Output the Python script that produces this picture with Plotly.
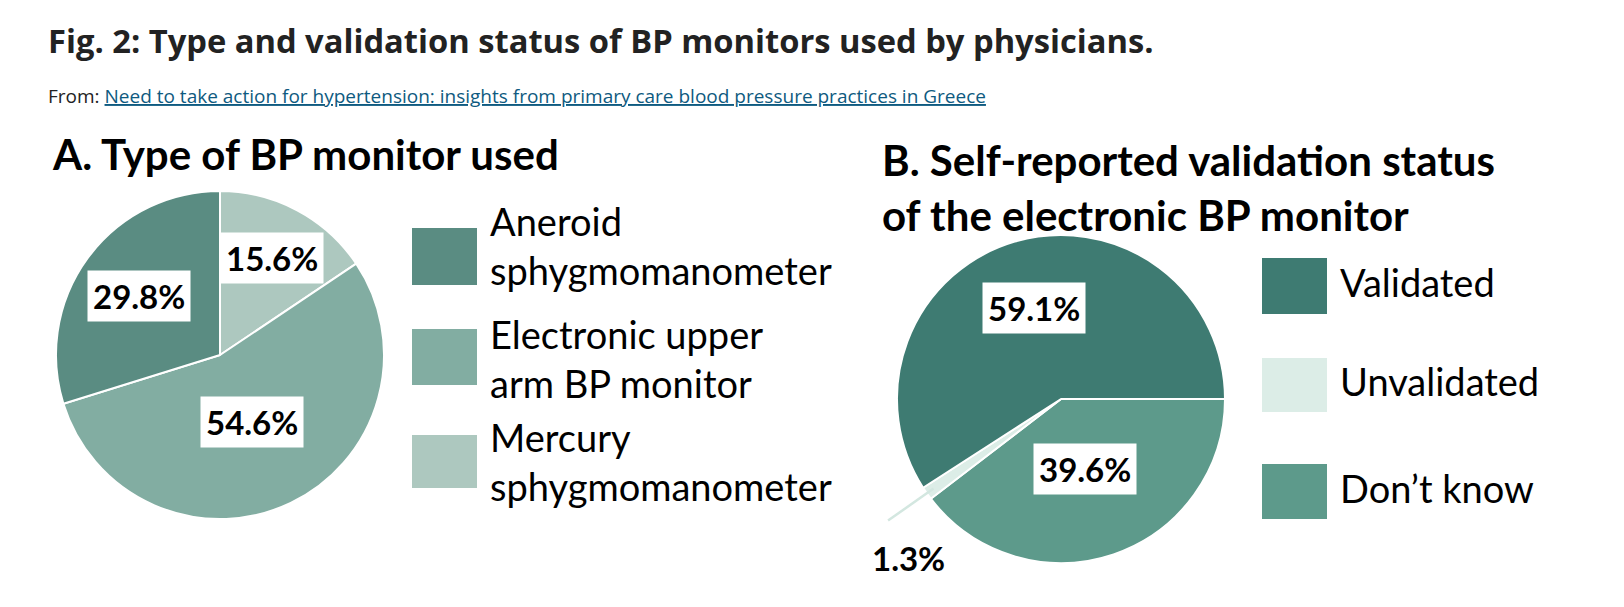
import math
import plotly.graph_objects as go

W, H = 1624, 607

# ---------------- data ----------------
type_labels = ["Aneroid sphygmomanometer", "Electronic upper arm BP monitor", "Mercury sphygmomanometer"]
type_legend_text = ["Aneroid<br>sphygmomanometer", "Electronic upper<br>arm BP monitor", "Mercury<br>sphygmomanometer"]
type_values = [29.8, 54.6, 15.6]

valid_labels = ["Validated", "Unvalidated", "Don’t know"]
valid_values = [59.1, 1.3, 39.6]

fig_title = "Fig. 2: Type and validation status of BP monitors used by physicians."
source_prefix = "From: "
source_link = "Need to take action for hypertension: insights from primary care blood pressure practices in Greece"
title_a = "A. Type of BP monitor used"
title_b = "B. Self-reported validation status<br>of the electronic BP monitor"

# ---------------- styles ----------------
type_colors = ["#5a8c82", "#82ada2", "#adc8bf"]
valid_colors = ["#3e7b72", "#dcede7", "#5d9a8b"]
FONT = "Lato"
HEAD_FONT = "Open Sans"

PIE_A = dict(cx=220, cy=355, r=164, rotation=0)
PIE_B = dict(cx=1061, cy=399, r=164, rotation=90)
label_r_a = [0.61, 0.45, 0.67]      # radial position of value boxes (legend order)
label_r_b = [0.58, None, 0.45]


def px(x):
    return x / W


def py(y):
    return 1 - y / H


def domain(p):
    return dict(x=[px(p["cx"] - p["r"]), px(p["cx"] + p["r"])],
                y=[py(p["cy"] + p["r"]), py(p["cy"] - p["r"])])


def mid_angles(values, rotation):
    """mid angle (deg, clockwise from 12 o'clock) of each slice, in legend order,
    for a pie drawn clockwise with the reversed order."""
    total = sum(values)
    rev = list(reversed(values))
    cum = 0.0
    mids_rev = []
    for v in rev:
        mids_rev.append(rotation + 360.0 * (cum + v / 2) / total)
        cum += v
    return list(reversed(mids_rev))


def polar(p, ang, frac):
    a = math.radians(ang)
    return p["cx"] + frac * p["r"] * math.sin(a), p["cy"] - frac * p["r"] * math.cos(a)


fig = go.Figure()

fig.add_trace(go.Pie(
    labels=type_labels[::-1], values=type_values[::-1],
    marker=dict(colors=type_colors[::-1], line=dict(color="white", width=2)),
    sort=False, direction="clockwise", rotation=PIE_A["rotation"],
    textinfo="none", hoverinfo="label+percent", showlegend=False,
    domain=domain(PIE_A),
))
fig.add_trace(go.Pie(
    labels=valid_labels[::-1], values=valid_values[::-1],
    marker=dict(colors=valid_colors[::-1], line=dict(color="white", width=2)),
    sort=False, direction="clockwise", rotation=PIE_B["rotation"],
    textinfo="none", hoverinfo="label+percent", showlegend=False,
    domain=domain(PIE_B),
))

annotations = []
shapes = []

# header
annotations.append(dict(x=px(46), y=py(41), xref="paper", yref="paper", xanchor="left", yanchor="middle",
                         text=f"<b>{fig_title}</b>", showarrow=False,
                         font=dict(family=HEAD_FONT, size=32.7, color="#222222")))
annotations.append(dict(x=px(46), y=py(96), xref="paper", yref="paper", xanchor="left", yanchor="middle",
                         text=f"{source_prefix}<a href='#' style='color:#0e5a80'><u>{source_link}</u></a>",
                         showarrow=False, font=dict(family=HEAD_FONT, size=19, color="#222222")))

# panel titles
annotations.append(dict(x=px(50), y=py(154), xref="paper", yref="paper", xanchor="left", yanchor="middle",
                         text=f"<b>{title_a}</b>", showarrow=False,
                         font=dict(family=FONT, size=42, color="black")))
annotations.append(dict(x=px(880), y=py(187), xref="paper", yref="paper", xanchor="left", yanchor="middle",
                         text=f"<b>{title_b}</b>", showarrow=False, align="left",
                         font=dict(family=FONT, size=42, color="black")))


def value_box(x, y, txt):
    annotations.append(dict(x=px(x), y=py(y), xref="paper", yref="paper", xanchor="center", yanchor="middle",
                             text=f"<b>{txt}</b>", showarrow=False, bgcolor="white", borderpad=5,
                             font=dict(family=FONT, size=33, color="black")))


# value labels, pie A
for v, ang, fr in zip(type_values, mid_angles(type_values, PIE_A["rotation"]), label_r_a):
    x, y = polar(PIE_A, ang, fr)
    value_box(x, y, f"{v:.1f}%")

# value labels, pie B
for v, ang, fr in zip(valid_values, mid_angles(valid_values, PIE_B["rotation"]), label_r_b):
    if fr is not None:
        x, y = polar(PIE_B, ang, fr)
        value_box(x, y, f"{v:.1f}%")
    else:
        x0, y0 = polar(PIE_B, ang, 0.95)
        x1, y1 = polar(PIE_B, ang, 1.3)
        annotations.append(dict(x=px(x0), y=py(y0), xref="paper", yref="paper",
                                 ax=x1 - x0, ay=y1 - y0, axref="pixel", ayref="pixel",
                                 text="", showarrow=True, arrowhead=0, arrowwidth=2.5,
                                 arrowcolor="#d3e7e0"))
        annotations.append(dict(x=px(x1 + 22), y=py(y1 + 36), xref="paper", yref="paper",
                                 xanchor="center", yanchor="middle", text=f"<b>{v:.1f}%</b>",
                                 showarrow=False, font=dict(family=FONT, size=33, color="black")))

# manual legends
leg_a_rows = [(228, 285), (329, 385), (435, 488)]
leg_a_text_y = [245, 358, 461]
for (y0, y1), ty, col, txt in zip(leg_a_rows, leg_a_text_y, type_colors, type_legend_text):
    shapes.append(dict(type="rect", xref="paper", yref="paper", x0=px(412), x1=px(477),
                       y0=py(y1), y1=py(y0), fillcolor=col, line=dict(width=0)))
    annotations.append(dict(x=px(488), y=py(ty), xref="paper", yref="paper",
                             xanchor="left", yanchor="middle", align="left", text=txt, showarrow=False,
                             font=dict(family=FONT, size=38, color="black")))

leg_b_rows = [(258, 314), (358, 412), (464, 519)]
for (y0, y1), col, txt in zip(leg_b_rows, valid_colors, valid_labels):
    shapes.append(dict(type="rect", xref="paper", yref="paper", x0=px(1262), x1=px(1327),
                       y0=py(y1), y1=py(y0), fillcolor=col, line=dict(width=0)))
    annotations.append(dict(x=px(1338), y=py((y0 + y1) / 2 - 4), xref="paper", yref="paper",
                             xanchor="left", yanchor="middle", align="left", text=txt, showarrow=False,
                             font=dict(family=FONT, size=38, color="black")))

fig.update_layout(
    width=W, height=H,
    margin=dict(l=0, r=0, t=0, b=0),
    paper_bgcolor="white", plot_bgcolor="white",
    annotations=annotations, shapes=shapes,
    showlegend=False,
)

fig.write_html("out.html")
